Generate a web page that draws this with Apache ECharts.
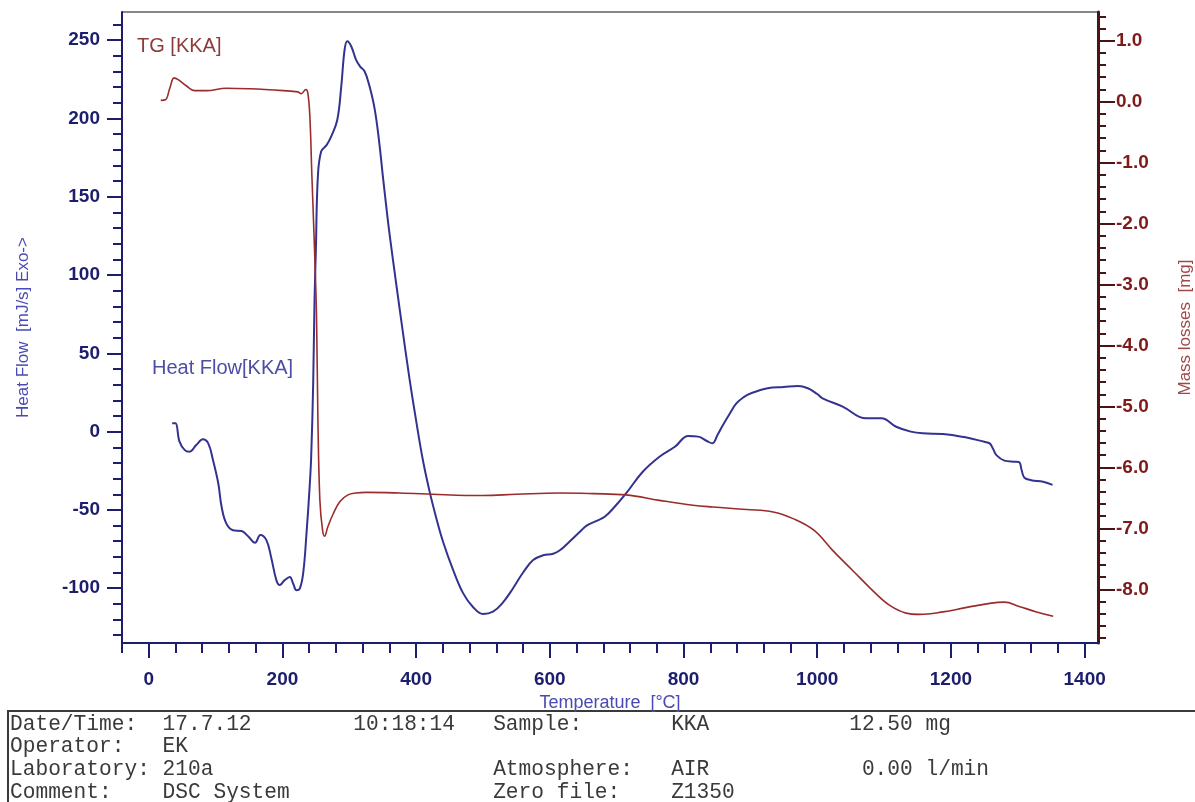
<!DOCTYPE html>
<html>
<head>
<meta charset="utf-8">
<script src="https://cdn.jsdelivr.net/npm/echarts@6/dist/echarts.min.js"></script>
<style>
html,body{margin:0;padding:0;background:#fff;}
#chart{width:1195px;height:802px;}
</style>
</head>
<body>
<div id="chart"></div>
<script>
// ---- Data ----
const hfTemp = [35,40,46,54,61,71,81,89,96,104,109,116,126,139,149,159,167,176,183,191,196,203,211,216,221,226,231,236,241,243,246,248,250,253,258,266,273,282,288,293,297,303,310,316,323,330,338,345,350,355,360,370,380,390,400,410,420,430,440,455,470,485,500,515,530,545,560,575,590,605,615,630,645,655,670,682,697,714,739,764,787,807,822,835,843,851,859,870,879,890,901,926,950,971,986,1000,1008,1038,1073,1096,1118,1140,1158,1188,1220,1250,1258,1263,1268,1280,1295,1302,1306,1310,1320,1338,1352];
const hfValue = [5.3,5.3,-6.4,-11.8,-12.8,-8.6,-4.9,-7.5,-18,-33,-48,-58.6,-63,-63.5,-67,-71,-66,-69.3,-80,-95,-98,-95,-92.8,-97,-101.3,-100.2,-90.6,-65,-33,-16,31,84,116,163,179,183,188.6,199,220.5,244,249.3,246,237.6,233.3,230,221,206,184,164,145,127,95,64,34,7,-18,-38,-55,-70,-88,-103,-112,-116.5,-115,-109,-100,-90,-82,-79,-78,-75.8,-70,-64,-60,-57,-54.4,-48,-39.5,-25.6,-16,-9.7,-2.8,-3.2,-6,-7.5,-2,4.2,12,18,22,24.5,27.7,28.5,29.2,27.7,24,21.3,16,8.5,8.5,3.1,0,-1.1,-1.5,-3.5,-6.5,-7.5,-11,-15,-18.5,-19.2,-19.5,-25,-29.5,-31,-32,-34];

const tgTemp = [18,25,31.5,38,44,56,69,86,116,151,201,223,228,235,238,241,244,248,251,253,256,260,263,268,276,286,298,310,325,375,425,475,500,550,615,665,714,764,814,844,894,934,964,995,1023,1053,1083,1108,1133,1153,1188,1222,1258,1280,1302,1328,1353];
const tgValue = [0.02,0.03,0.22,0.39,0.36,0.26,0.18,0.18,0.22,0.21,0.18,0.16,0.13,0.2,0.14,-0.24,-1.2,-2.43,-3.53,-5.17,-6.54,-7.03,-7.13,-6.97,-6.76,-6.56,-6.45,-6.42,-6.41,-6.42,-6.44,-6.46,-6.46,-6.44,-6.42,-6.43,-6.45,-6.54,-6.62,-6.65,-6.69,-6.73,-6.84,-7.03,-7.36,-7.69,-8.02,-8.26,-8.39,-8.41,-8.37,-8.3,-8.23,-8.21,-8.28,-8.37,-8.44];

const xTickLabels = [0,200,400,600,800,1000,1200,1400];
const hfTickLabels = [-100,-50,0,50,100,150,200,250];
const tgTickLabels = [-8,-7,-6,-5,-4,-3,-2,-1,0,1];

const infoLines = [
  "Date/Time:  17.7.12        10:18:14   Sample:       KKA           12.50 mg",
  "Operator:   EK",
  "Laboratory: 210a                      Atmosphere:   AIR            0.00 l/min",
  "Comment:    DSC System                Zero file:    Z1350"
];

// ---- minor tick positions (axis layout) ----
const xMinor = [];
for (let v = -40; v <= 1400; v += 40) if (v % 200 !== 0) xMinor.push(v);
const hfMinor = [];
for (let v = -130; v <= 260; v += 10) if (v % 50 !== 0) hfMinor.push(v);
const tgMinor = [];
for (let i = -44; i <= 7; i++) if (i % 5 !== 0) tgMinor.push(Math.round(i * 2) / 10);

const NAVY = '#1d1d6e';
const BLUE_NAME = '#4a4ab4';
const MAROON = '#4a1414';
const RED_LABEL = '#7e1a1a';
const FONT = 'Arial, "Liberation Sans", sans-serif';

const chart = echarts.init(document.getElementById('chart'), null, {renderer: 'canvas'});

const option = {
  animation: false,
  backgroundColor: '#ffffff',
  grid: {
    left: 122, right: 97, top: 12, bottom: 159,
    show: true, borderColor: '#111', borderWidth: 1, backgroundColor: 'transparent',
    containLabel: false, outerBoundsMode: 'none'
  },
  xAxis: [
    {
      type: 'value', min: -40, max: 1420, position: 'bottom',
      axisLine: {show: true, onZero: false, lineStyle: {color: NAVY, width: 2}},
      axisTick: {show: true, customValues: xTickLabels, length: 15, lineStyle: {color: NAVY, width: 2}},
      axisLabel: {show: true, customValues: xTickLabels, margin: 27, color: NAVY, fontWeight: 'bold', fontSize: 19, fontFamily: FONT,
        formatter: v => String(v)},
      splitLine: {show: false},
      name: 'Temperature  [°C]', nameLocation: 'middle', nameGap: 48,
      nameTextStyle: {color: BLUE_NAME, fontSize: 18, fontFamily: FONT}
    },
    {
      type: 'value', min: -40, max: 1420, position: 'bottom',
      axisLine: {show: false, onZero: false},
      axisTick: {show: true, customValues: xMinor, length: 10, lineStyle: {color: NAVY, width: 2}},
      axisLabel: {show: false},
      splitLine: {show: false}
    }
  ],
  yAxis: [
    {
      type: 'value', min: -135, max: 268, position: 'left',
      axisLine: {show: true, onZero: false, lineStyle: {color: NAVY, width: 2}},
      axisTick: {show: true, customValues: hfTickLabels, length: 15, lineStyle: {color: NAVY, width: 2}},
      axisLabel: {show: true, customValues: hfTickLabels, margin: 22, color: NAVY, fontWeight: 'bold', fontSize: 19, fontFamily: FONT,
        formatter: v => String(v)},
      splitLine: {show: false},
      name: 'Heat Flow  [mJ/s] Exo->', nameLocation: 'middle', nameGap: 90,
      nameTextStyle: {color: BLUE_NAME, fontSize: 17, fontFamily: FONT}
    },
    {
      type: 'value', min: -135, max: 268, position: 'left',
      axisLine: {show: false, onZero: false},
      axisTick: {show: true, customValues: hfMinor, length: 9, lineStyle: {color: NAVY, width: 2}},
      axisLabel: {show: false},
      splitLine: {show: false}
    },
    {
      type: 'value', min: -8.88, max: 1.47, position: 'right',
      axisLine: {show: true, onZero: false, lineStyle: {color: MAROON, width: 3}},
      axisTick: {show: true, customValues: tgTickLabels, length: 17, lineStyle: {color: MAROON, width: 2}},
      axisLabel: {show: true, customValues: tgTickLabels, margin: 18, color: RED_LABEL, fontWeight: 'bold', fontSize: 19, fontFamily: FONT,
        formatter: v => Number(v).toFixed(1)},
      splitLine: {show: false},
      name: 'Mass losses  [mg]', nameLocation: 'middle', nameGap: 79,
      nameTextStyle: {color: '#a04848', fontSize: 17, fontFamily: FONT}
    },
    {
      type: 'value', min: -8.88, max: 1.47, position: 'right',
      axisLine: {show: false, onZero: false},
      axisTick: {show: true, customValues: tgMinor, length: 8, lineStyle: {color: MAROON, width: 2}},
      axisLabel: {show: false},
      splitLine: {show: false}
    }
  ],
  series: [
    {
      name: 'Heat Flow[KKA]', type: 'line', xAxisIndex: 0, yAxisIndex: 0,
      data: hfTemp.map((t, i) => [t, hfValue[i]]),
      showSymbol: false, smooth: 0.4,
      lineStyle: {color: '#33338f', width: 2}
    },
    {
      name: 'TG [KKA]', type: 'line', xAxisIndex: 0, yAxisIndex: 2,
      data: tgTemp.map((t, i) => [t, tgValue[i]]),
      showSymbol: false, smooth: 0.4,
      lineStyle: {color: '#9a2c2c', width: 1.6}
    }
  ],
  graphic: [
    {type: 'text', left: 137, top: 36, style: {text: 'TG [KKA]', fill: '#8e3a3a', fontSize: 20, fontFamily: FONT}},
    {type: 'text', left: 152, top: 358, style: {text: 'Heat Flow[KKA]', fill: '#4d4da6', fontSize: 20, fontFamily: FONT}},
    {type: 'rect', shape: {x: 8, y: 711, width: 1200, height: 120}, style: {fill: 'none', stroke: '#3a3a3a', lineWidth: 2}},
    {type: 'group', children: infoLines.map((s, i) => ({
      type: 'text', x: 10, y: 724 + i * 22.8,
      style: {text: s, fill: '#3a3a3a', fontSize: 21.2, fontFamily: '"Courier New", "Liberation Mono", monospace', verticalAlign: 'middle', align: 'left'}
    }))}
  ]
};
chart.setOption(option);
</script>
</body>
</html>
